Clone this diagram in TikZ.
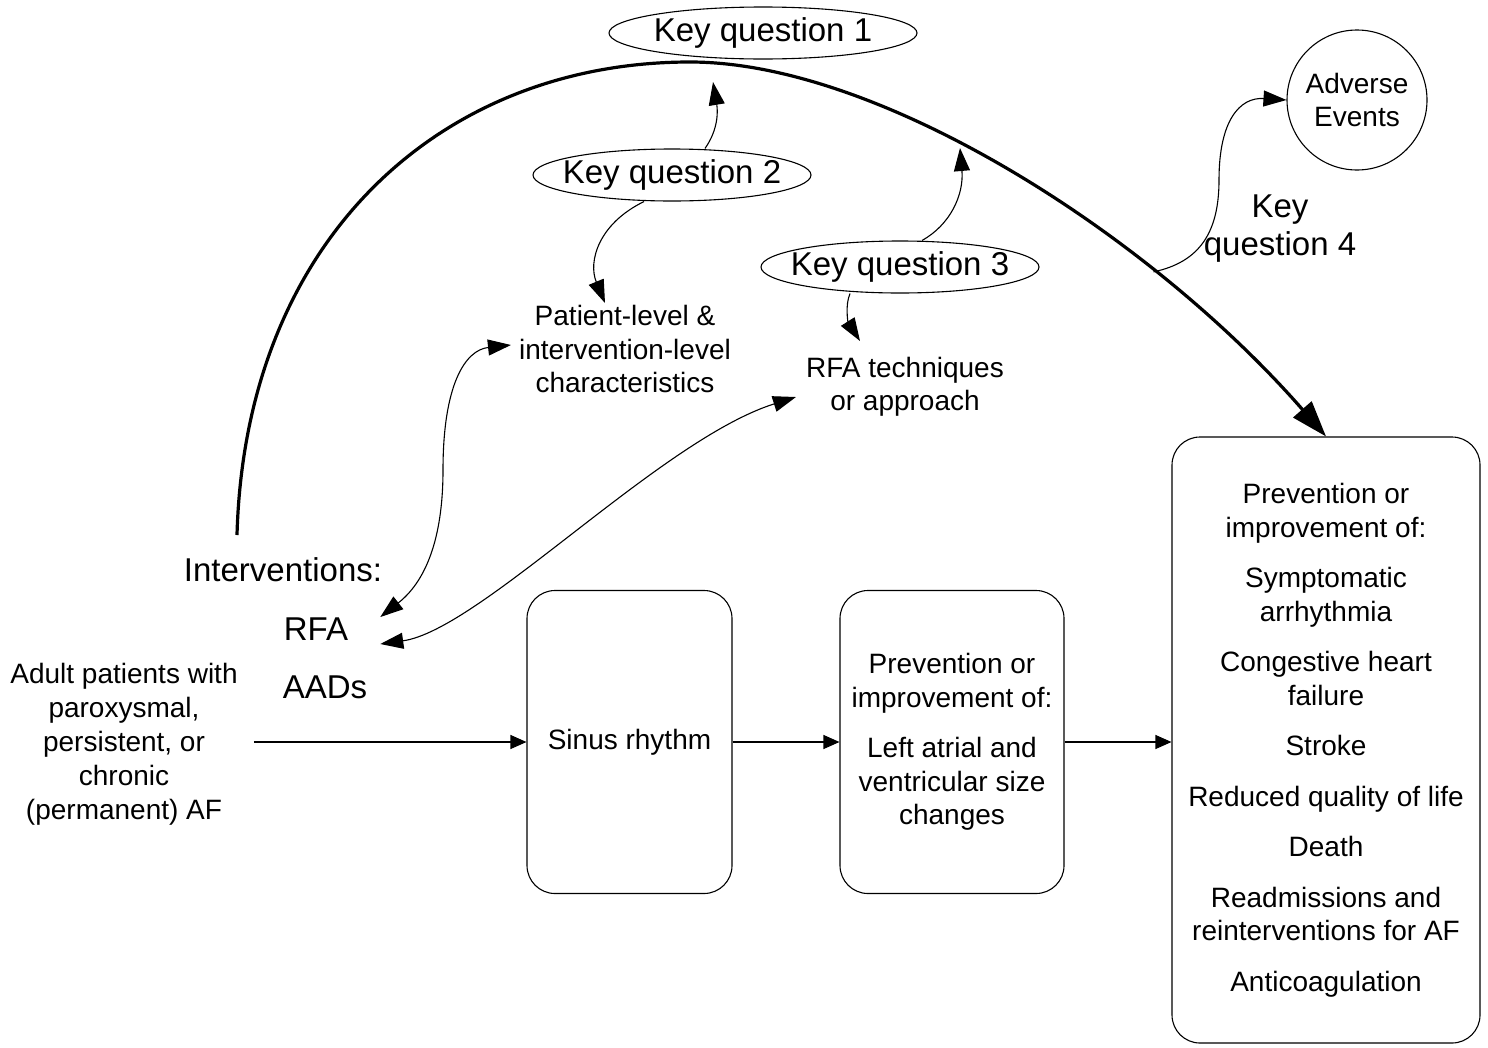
\documentclass[tikz,border=0pt]{standalone}
\usepackage{fontspec}
\setmainfont{Liberation Sans}
\usetikzlibrary{arrows.meta,shapes.geometric}

\begin{document}
\begin{tikzpicture}[
  x=1pt, y=-1pt,
  smalltext/.style={align=center, inner sep=2pt, font=\fontsize{28}{33.5}\selectfont},
  bigtext/.style={align=center, inner sep=2pt, font=\fontsize{33}{38}\selectfont},
  roundbox/.style={rectangle, rounded corners=28pt, draw=black, line width=1.1pt, align=center, inner sep=0pt, font=\fontsize{28}{33.5}\selectfont},
  keyq/.style={ellipse, draw=black, line width=1.1pt, inner xsep=-30pt, inner ysep=0pt, minimum height=52pt, font=\fontsize{33}{38}\selectfont},
  qarrow/.style={draw, line width=1.1pt, -{Triangle[length=23pt,width=16pt]}},
  twoway/.style={draw, line width=1.1pt, {Triangle[length=23pt,width=16pt]}-{Triangle[length=23pt,width=16pt]}},
  mainarc/.style={draw, line width=3.2pt, -{Triangle[length=36pt,width=24pt]}},
  every edge/.style={  % straight flow arrows
            draw,
            line width=1.1pt,
            -{Triangle[length=16pt,width=14pt]}}
]
  \useasboundingbox (0,0) rectangle (1488,1047);

  % key question ovals
  \node[keyq, minimum width=308pt] (kq1) at (763,33)  {Key question 1};
  \node[keyq, minimum width=278pt] (kq2) at (672,175) {Key question 2};
  \node[keyq, minimum width=278pt] (kq3) at (900,267) {Key question 3};
  \node[bigtext] (kq4) at (1280,229) {Key\\question 4};

  \node[smalltext] (pl)  at (625,349) {Patient-level \&\\intervention-level\\characteristics};
  \node[smalltext] (rft) at (905,387) {RFA techniques\\or approach};
  \node[smalltext, circle, draw, line width=1.1pt, minimum size=140pt] (ae) at (1357,100) {Adverse\\Events};

  \node[bigtext] (ivn) at (283,570) {Interventions:};
  \node[bigtext] (rfa) at (316,629) {RFA};
  \node[bigtext] (aad) at (325,687) {AADs};
  \node[smalltext, font=\fontsize{28}{34}\selectfont] (adult) at (124,744) {Adult patients with\\paroxysmal,\\persistent, or\\chronic\\(permanent) AF};

  \node[roundbox, minimum width=205pt, minimum height=303pt] (sinus) at (629.5,742) {Sinus rhythm};
  \node[roundbox, minimum width=224pt, minimum height=303pt] (lav) at (952,742)
    {Prevention or\\improvement of:\\[17pt]Left atrial and\\ventricular size\\changes};
  \node[roundbox, minimum width=308pt, minimum height=606pt] (outc) at (1326,740)
    {Prevention or\\improvement of:\\[17pt]Symptomatic\\arrhythmia\\[17pt]Congestive heart\\failure\\[17pt]Stroke\\[17pt]Reduced quality of life\\[17pt]Death\\[17pt]Readmissions and\\reinterventions for AF\\[17pt]Anticoagulation};

  \coordinate (arcfoot) at (237,535);
  \coordinate (kq1tip) at (713,82);
  \coordinate (kq3tip) at (960,148);

  % the big arc from the interventions to the final outcomes
  \draw[mainarc] (arcfoot) .. controls (245,240) and (440,62) .. (690,62)
    .. controls (880,62) and (1150,235) .. (outc.north) coordinate[pos=0.71] (kq4s);

  \draw[qarrow] ([xshift=33pt]kq2.north) .. controls (718,130) and (718,112) .. (kq1tip);
  \draw[qarrow] ([xshift=-28pt]kq2.south) .. controls (598,224) and (588,262) .. ([xshift=-20pt]pl.north);
  \draw[qarrow] ([xshift=22pt]kq3.north) .. controls (950,225) and (964,195) .. (kq3tip);
  \draw[qarrow] ([xshift=-50pt]kq3.south) .. controls (845,305) and (848,322) .. ([xshift=-45pt,yshift=14pt]rft.north);
  \draw[qarrow] (kq4s) .. controls (1200,262) and (1219,232) .. (1219,180)
    .. controls (1219,120) and (1240,97) .. (ae.west);

  \draw[twoway] ([xshift=30pt,yshift=12pt]rfa.east) .. controls (425,582) and (443,540) .. (443,470)
    .. controls (443,385) and (465,350) .. ([xshift=-6pt,yshift=4pt]pl.west);
  \draw[twoway] ([xshift=30pt,yshift=-15pt]rfa.east) .. controls (480,630) and (660,440) .. ([xshift=-8pt,yshift=-10pt]rft.west);

  \draw ([xshift=14pt]adult.east |- sinus.west) edge (sinus.west);
  \draw (sinus) edge (lav);
  \draw (lav.east) edge (lav.east -| outc.west);
\end{tikzpicture}
\end{document}
